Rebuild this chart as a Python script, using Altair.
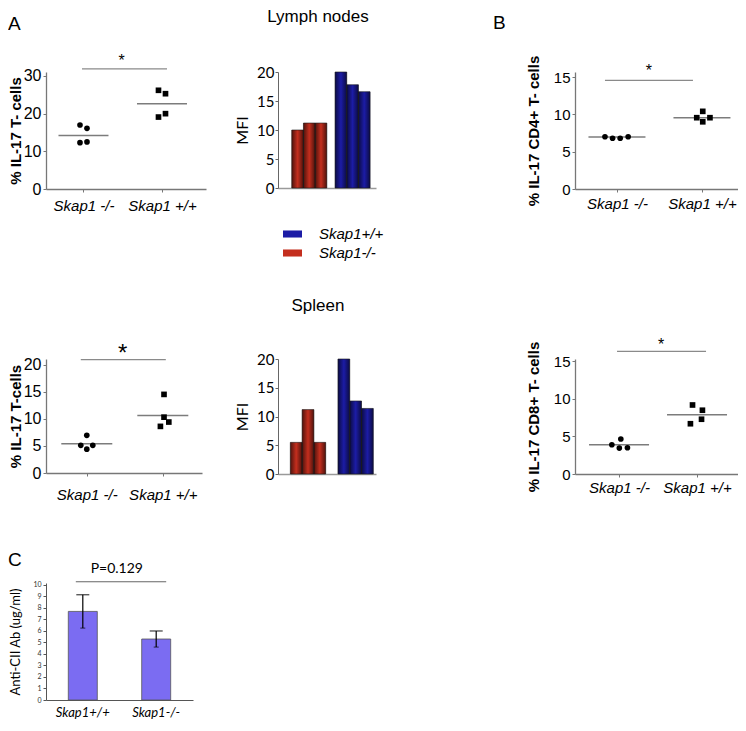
import altair as alt
import pandas as pd

ARIAL = "Liberation Sans"
LATO = "Lato"

GENO = ["Skap1 -/-", "Skap1 +/+"]
LEGEND_GENO = ["Skap1+/+", "Skap1-/-"]
MFI_ORDER = ["Skap1-/-", "Skap1+/+"]
REPS = ["1", "2", "3"]
C_GENO = ["Skap1+/+", "Skap1-/-"]

# ---- Panel A, lymph nodes: % IL-17 T-cells (4 mice per genotype)
ln_ko = [17.0, 16.1, 12.3, 12.5]
ln_wt = [26.2, 25.3, 19.1, 20.0]
ln_ko_col = [-1, 1, -1, 1]
ln_wt_col = [-1, 1, -1, 1]
ln_mean = [14.2, 22.6]
ln_sig, ln_star = 31.9, 35.3

# ---- Panel A, spleen: % IL-17 T-cells
sp_ko = [6.95, 5.1, 5.1, 4.4]
sp_wt = [14.5, 10.3, 9.4, 8.6]
sp_ko_col = [0, -1, 1, 0]
sp_wt_col = [0.2, 0.2, 1, -0.4]
sp_mean = [5.4, 10.6]
sp_sig, sp_star = 20.9, 23.2

# ---- Panel A, MFI bars
ln_mfi_ko = [10.0, 11.2, 11.2]
ln_mfi_wt = [20.0, 17.8, 16.6]
sp_mfi_ko = [5.5, 11.2, 5.5]
sp_mfi_wt = [20.0, 12.7, 11.4]

# ---- Panel B: % IL-17 CD4+ / CD8+ T-cells
cd4_ko = [7.0, 6.8, 6.8, 7.0]
cd4_wt = [9.55, 10.4, 9.0, 9.55]
cd4_ko_col = [-1.5, -0.55, 0.4, 1.4]
cd4_wt_col = [-0.65, 0.1, 0.1, 1.0]
cd4_mean = [6.95, 9.55]
cd4_sig, cd4_star = 14.56, 16.5

cd8_ko = [3.9, 4.67, 3.45, 3.5]
cd8_wt = [9.2, 8.5, 7.3, 6.7]
cd8_ko_col = [-1.2, 0.3, 0.05, 1.4]
cd8_wt_col = [-0.75, 0.9, 0.75, -1.1]
cd8_mean = [3.9, 7.9]
cd8_sig, cd8_star = 16.35, 17.9

# ---- Panel C: anti-CII antibody
c_mean = [7.7, 5.3]
c_err = [1.45, 0.7]
c_sig, c_ptext = 10.28, 11.4

RED = "#c42e1e"
BLUE = "#1c1ca6"
C_FILL = "#7b6cf2"
SHADE = alt.LinearGradient(
    gradient="linear", x1=0, x2=1, y1=0, y2=0,
    stops=[alt.GradientStop(color="rgba(0,0,0,0.6)", offset=0),
           alt.GradientStop(color="rgba(0,0,0,0)", offset=0.5),
           alt.GradientStop(color="rgba(0,0,0,0.6)", offset=1)])


def letter_title(txt, dx, offset):
    return alt.TitleParams(txt, anchor="start", frame="group", dx=dx, offset=offset,
                           fontSize=19, fontWeight="normal", font=ARIAL, color="black")


def dot_panel(ko, wt, ko_col, wt_col, means, sig, star, ymax, ticks, ytitle,
              width, height, pad, align, jitter, mean_len, lab_pad, title_pad,
              star_size, star_dx, rule_dx, tick_font=16, title=None):
    pts = pd.DataFrame({"geno": [GENO[0]] * len(ko) + [GENO[1]] * len(wt),
                        "val": ko + wt, "col": ko_col + wt_col})
    mdf = pd.DataFrame({"geno": GENO, "val": means})
    sdf = pd.DataFrame({"a": [GENO[0]], "b": [GENO[1]], "val": [sig], "star": [star]})
    xs = alt.Scale(type="point", domain=GENO, padding=pad, align=align)
    xax = alt.Axis(title=None, labelAngle=0, labelFont=ARIAL, labelFontSize=15,
                   labelFontStyle="italic", labelColor="black", labelPadding=lab_pad,
                   tickSize=3, tickColor="#777", domainColor="#777", domainWidth=1.3)
    ys = alt.Scale(domain=[0, ymax], nice=False, zero=True)
    yax = alt.Axis(values=ticks, title=ytitle, titleFont=ARIAL, titleFontWeight="bold",
                   titleFontSize=15, titleColor="black", titlePadding=title_pad,
                   labelFont=ARIAL, labelFontSize=tick_font, labelColor="black",
                   labelPadding=2, tickSize=3, tickColor="#777", domainColor="#777",
                   domainWidth=1.3, grid=False)

    def X(f):
        return alt.X(f"{f}:N", scale=xs, axis=xax, sort=GENO)

    def Y(f):
        return alt.Y(f"{f}:Q", scale=ys, axis=yax)

    mean = alt.Chart(mdf).mark_tick(orient="horizontal", size=mean_len, thickness=1.5,
                                    color="#444").encode(x=X("geno"), y=Y("val"))
    dots = alt.Chart(pts).mark_point(filled=True, size=32, opacity=1, color="black").encode(
        x=X("geno"), y=Y("val"),
        xOffset=alt.XOffset("col:Q", scale=alt.Scale(domain=[-1, 1], range=[-jitter, jitter])),
        shape=alt.Shape("geno:N", scale=alt.Scale(domain=GENO, range=["circle", "square"]),
                        legend=None))
    rule = alt.Chart(sdf).mark_rule(color="#8a8a8a", strokeWidth=1.2,
                                    xOffset=rule_dx[0], x2Offset=rule_dx[1]).encode(
        x=X("a"), x2=alt.X2(field="b"), y=Y("val"))
    star_t = alt.Chart(sdf).mark_text(text="*", fontSize=star_size, font=ARIAL, dx=star_dx,
                                      dy=round(star_size * 0.3), color="black").encode(
        x=X("a"), y=Y("star"))
    ch = alt.layer(mean, dots, rule, star_t).properties(width=width, height=height)
    if title is not None:
        ch = ch.properties(title=title)
    return ch


def mfi_panel(ko, wt, width, height, pi, po, al, title, legend):
    df = pd.DataFrame({"geno": [MFI_ORDER[0]] * 3 + [MFI_ORDER[1]] * 3,
                       "rep": REPS * 2, "val": ko + wt})
    x = alt.X("geno:N", sort=MFI_ORDER,
              scale=alt.Scale(domain=MFI_ORDER, paddingInner=pi, paddingOuter=po, align=al),
              axis=alt.Axis(title=None, labels=False, ticks=False, domainColor="#9a9a9a",
                            domainWidth=1.3))
    xo = alt.XOffset("rep:N", sort=REPS, scale=alt.Scale(paddingInner=0, paddingOuter=0))
    y = alt.Y("val:Q", scale=alt.Scale(domain=[0, 20], nice=False),
              axis=alt.Axis(values=[0, 5, 10, 15, 20], title="MFI", titleFont=LATO,
                            titleFontSize=16, titleFontWeight="normal", titleColor="black",
                            titlePadding=6, labelFont=LATO, labelFontSize=15,
                            labelColor="black", labelPadding=1, tickSize=3,
                            tickColor="#666", domainColor="#666", grid=False))
    base = alt.Chart(df).mark_bar().encode(
        x=x, xOffset=xo, y=y,
        color=alt.Color("geno:N", scale=alt.Scale(domain=LEGEND_GENO, range=[BLUE, RED]),
                        legend=legend))
    shade = alt.Chart(df).mark_bar(fill=SHADE, stroke="#1a1a1a", strokeWidth=0.6).encode(
        x=x, xOffset=xo, y=y)
    return alt.layer(base, shade).properties(width=width, height=height, title=title)


a_ln = dot_panel(ln_ko, ln_wt, ln_ko_col, ln_wt_col, ln_mean, ln_sig, ln_star,
                 31.06, [0, 10, 20, 30], "% IL-17 T- cells", 160, 117, 0.519, 0.46, 3.5,
                 50, 6, 0, 16, 38, (-1.5, 5), title=letter_title("A", -38, 19))
a_sp = dot_panel(sp_ko, sp_wt, sp_ko_col, sp_wt_col, sp_mean, sp_sig, sp_star,
                 21.03, [0, 5, 10, 15, 20], "% IL-17 T-cells", 156, 114, 0.526, 0.51, 6,
                 51, 11, 0, 24, 36, (-6, 3))
b_cd4 = dot_panel(cd4_ko, cd4_wt, cd4_ko_col, cd4_wt_col, cd4_mean, cd4_sig, cd4_star,
                  15.67, [0, 5, 10, 15], "% IL-17 CD4+ T- cells", 163, 117, 0.459, 0.538, 8,
                  57, 4, 12, 16, 32, (-12, -9), tick_font=15,
                  title=letter_title("B", -82, 22))
b_cd8 = dot_panel(cd8_ko, cd8_wt, cd8_ko_col, cd8_wt_col, cd8_mean, cd8_sig, cd8_star,
                  15.33, [0, 5, 10, 15], "% IL-17 CD8+ T- cells", 163, 115, 0.545, 0.518, 6,
                  60, 3, 12, 16, 42, (-2, 9), tick_font=15)

legend = alt.Legend(title=None, orient="none", legendX=7, legendY=154.5,
                    symbolType="M-1.27,-0.47H1.27V0.47H-1.27Z", symbolSize=225,
                    symbolStrokeWidth=0, labelFont=ARIAL, labelFontSize=15,
                    labelFontStyle="italic", labelColor="black", labelOffset=19,
                    rowPadding=3, padding=0)
ln_mfi = mfi_panel(ln_mfi_ko, ln_mfi_wt, 98, 116, 0.19, 0.227, 0.7,
                   alt.TitleParams("Lymph nodes", anchor="middle", frame="group", dx=-9,
                                   offset=39, fontSize=17, fontWeight="normal", font=ARIAL,
                                   color="black"), legend)
sp_mfi = mfi_panel(sp_mfi_ko, sp_mfi_wt, 98, 115, 0.258, 0.158, 0.82,
                   alt.TitleParams("Spleen", anchor="middle", frame="group", dx=-9,
                                   offset=37, fontSize=17, fontWeight="normal", font=ARIAL,
                                   color="black"), None)

# ---- Panel C
cdf = pd.DataFrame({"geno": C_GENO, "val": c_mean, "err": c_err})
cdf["lo"] = cdf["val"] - cdf["err"]
cdf["hi"] = cdf["val"] + cdf["err"]
csig = pd.DataFrame({"a": [C_GENO[0]], "b": [C_GENO[1]], "val": [c_sig], "ptxt": [c_ptext]})
cxs = alt.Scale(domain=C_GENO, paddingInner=0.605, paddingOuter=0.304)
cxax = alt.Axis(title=None, labelAngle=0, ticks=False, labelFont=LATO, labelFontSize=13,
                labelFontStyle="italic", labelColor="black", labelPadding=6,
                domainColor="#555")
cys = alt.Scale(domain=[0, 10.17], nice=False)
cyax = alt.Axis(values=list(range(11)), title="Anti-CII Ab  (ug/ml)", titleFont=LATO,
                titleFontSize=13, titleFontWeight="normal", titleColor="black",
                titlePadding=10, labelFont=LATO, labelFontSize=7, labelColor="#333",
                labelPadding=2, tickSize=3, tickColor="#555", domainColor="#555", grid=False)


def CX(f):
    return alt.X(f"{f}:N", scale=cxs, axis=cxax, sort=C_GENO)


def CY(f):
    return alt.Y(f"{f}:Q", scale=cys, axis=cyax)


c_bars = alt.Chart(cdf).mark_bar(fill=C_FILL, stroke="#555", strokeWidth=0.8).encode(
    x=CX("geno"), y=CY("val"))
c_err_r = alt.Chart(cdf).mark_rule(color="black", strokeWidth=1.2).encode(
    x=CX("geno"), y=CY("lo"), y2=alt.Y2(field="hi"))
c_cap_hi = alt.Chart(cdf).mark_tick(orient="horizontal", size=13, thickness=1.3,
                                    color="black").encode(x=CX("geno"), y=CY("hi"))
c_cap_lo = alt.Chart(cdf).mark_tick(orient="horizontal", size=5, thickness=1,
                                    color="black").encode(x=CX("geno"), y=CY("lo"))
c_rule = alt.Chart(csig).mark_rule(color="#666", strokeWidth=1.2, xOffset=-7,
                                   x2Offset=10).encode(x=CX("a"), x2=alt.X2(field="b"),
                                                       y=CY("val"))
c_p = alt.Chart(csig).mark_text(text="P=0.129", font=LATO, fontSize=14, dx=34,
                                color="black").encode(x=CX("a"), y=CY("ptxt"))
c_chart = alt.layer(c_bars, c_err_r, c_cap_hi, c_cap_lo, c_rule, c_p).properties(
    width=147, height=117, title=letter_title("C", -38, -8))


def spacer(h):
    return alt.Chart(pd.DataFrame({"v": [0]})).mark_point(opacity=0).encode(
        x=alt.X("v:Q", axis=None), y=alt.Y("v:Q", axis=None)).properties(width=55, height=h)


chart = alt.concat(
    a_ln, ln_mfi, spacer(178), b_cd4,
    a_sp, sp_mfi, spacer(1), b_cd8,
    c_chart,
    columns=4, spacing={"row": 109, "column": 72}, bounds="flush", align="each",
    padding={"left": 0, "top": 0, "right": 0, "bottom": 0},
).resolve_scale(color="independent", xOffset="independent", shape="independent"
).configure_view(stroke=None).configure_axis(grid=False)

chart.save("out.html", embed_options={"renderer": "svg", "actions": False})
